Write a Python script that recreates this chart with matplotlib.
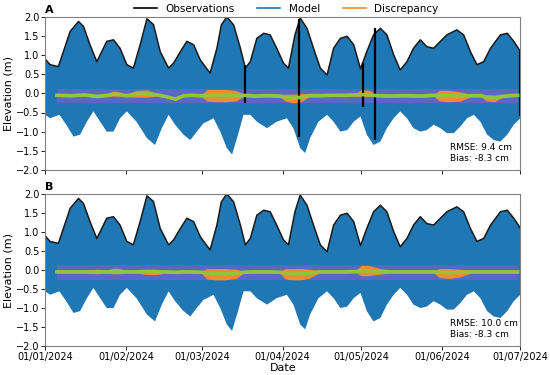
import numpy as np
import pandas as pd
import matplotlib.pyplot as plt
import matplotlib.dates as mdates

start = pd.Timestamp("2024-01-01")
end = pd.Timestamp("2024-07-01")

# upper / lower envelope of the tide (days since 01/01/2024, m)
up_days = [0, 1.9, 5.1, 7, 9.6, 12.8, 14.7, 17.2, 19.8, 21.7, 23.6, 26.2, 28.7, 31.3, 33.8,
           36.4, 39, 41.5, 44.1, 47.3, 49.2, 51.8, 54.3, 56.9, 59.4, 61.3, 63.2, 65.8, 67.5,
           69.6, 72.2, 74.8, 76.7, 78.6, 81.1, 83.7, 86.2, 88.7, 91.3, 93.2, 95.7, 97.7,
           100.3, 102.8, 105.4, 108, 110.5, 113.1, 115.7, 118.2, 120.8, 123.2, 125.8, 128.4,
           130.9, 133.5, 136, 138.6, 141.1, 143.7, 146.2, 148.8, 151.4, 153.9, 157.7, 160.3,
           162.9, 165.4, 168, 170.6, 174.4, 177, 179.5, 182]
model_high = [0.9, 0.75, 0.7, 1.09, 1.62, 1.88, 1.75, 1.27, 0.83, 1.09, 1.36, 1.4, 1.18,
              0.75, 0.66, 1.27, 1.95, 1.8, 1.09, 0.66, 0.79, 1.09, 1.36, 1.27, 0.88, 0.7,
              0.53, 1.18, 1.79, 2.0, 1.79, 1.18, 0.66, 0.83, 1.44, 1.57, 1.53, 1.18, 0.79,
              0.66, 1.53, 1.97, 1.7, 1.18, 0.66, 0.48, 1.18, 1.44, 1.49, 1.27, 0.64, 1.09,
              1.53, 1.7, 1.53, 1.01, 0.61, 0.83, 1.18, 1.4, 1.22, 1.18, 1.36, 1.53, 1.66,
              1.53, 1.09, 0.75, 0.83, 1.18, 1.53, 1.57, 1.36, 1.1]

low_days = [0, 1.9, 5.5, 8.1, 10.9, 13.4, 16, 18.5, 21.1, 23.6, 26.2, 28.7, 31.3, 35, 39,
            42.1, 44.7, 47.3, 49.8, 53, 55.6, 58.1, 60.7, 62, 64.5, 67.1, 69.6, 71.6, 73.5,
            76, 78.6, 81.1, 85, 88.7, 92.6, 95.1, 97.7, 99.6, 101.5, 104.7, 108, 110.5,
            113.1, 115.7, 118.2, 120.8, 123.2, 125.8, 128.4, 130.9, 133.5, 136, 138.6, 141.1,
            143.7, 146.2, 148.8, 151.4, 153.9, 156.5, 159, 161.6, 164.2, 166.7, 169.3, 171.8,
            174.4, 177, 179.5, 182]
model_low = [-0.56, -0.65, -0.56, -0.82, -1.13, -1.08, -0.74, -0.47, -0.74, -1.0, -1.0,
             -0.65, -0.47, -0.74, -1.17, -1.35, -0.91, -0.56, -0.82, -1.08, -1.22, -1.0,
             -0.78, -0.74, -0.65, -1.0, -1.43, -1.6, -1.17, -0.56, -0.56, -0.74, -0.91,
             -0.74, -0.65, -0.91, -1.43, -1.56, -1.17, -0.74, -0.56, -0.74, -1.0, -0.96,
             -0.74, -0.6, -1.08, -1.35, -1.26, -0.91, -0.65, -0.47, -0.65, -0.91, -1.0,
             -0.96, -0.82, -0.91, -1.04, -1.04, -0.87, -0.65, -0.56, -0.74, -1.08, -1.22,
             -1.26, -1.08, -0.82, -0.65]

# vertical black strokes in the observations of panel A
gap_days = [76.6, 97.1, 121.7, 126.4, 182]
gap_top = [0.75, 1.95, 0.8, 1.7, 1.14]
gap_bot = [-0.26, -1.14, -0.35, -1.23, -0.6]

# discrepancy series (days, centre line, spread)
disc_days = [4.5, 10, 15, 20, 24, 26, 28.5, 31, 35, 39, 43, 46, 50, 53, 56, 60, 62, 65, 69,
             73, 76, 80, 85, 90, 92, 95, 98, 101, 105, 110, 115, 119, 121, 124, 127, 132,
             138, 144, 149, 151, 155, 159, 163, 167, 169, 172, 175, 178, 181]
discA_mid = [-0.05, -0.06, -0.04, -0.08, -0.05, -0.02, -0.03, -0.06, -0.02, -0.01, -0.04,
             -0.08, -0.15, -0.06, -0.05, -0.06, -0.05, -0.04, -0.05, -0.06, -0.05, -0.07,
             -0.06, -0.07, -0.1, -0.13, -0.1, -0.06, -0.06, -0.05, -0.05, -0.04, -0.03,
             -0.04, -0.06, -0.07, -0.06, -0.07, -0.05, -0.06, -0.06, -0.07, -0.06, -0.06,
             -0.1, -0.12, -0.08, -0.06, -0.05]
discA_low = [-0.08, -0.09, -0.07, -0.11, -0.08, -0.07, -0.07, -0.09, -0.1, -0.1, -0.07,
             -0.11, -0.18, -0.09, -0.08, -0.09, -0.2, -0.22, -0.22, -0.2, -0.08, -0.1,
             -0.09, -0.1, -0.2, -0.25, -0.22, -0.09, -0.09, -0.08, -0.08, -0.07, -0.08,
             -0.08, -0.09, -0.1, -0.09, -0.1, -0.08, -0.2, -0.22, -0.2, -0.09, -0.09,
             -0.2, -0.22, -0.11, -0.09, -0.08]
discA_high = [-0.02, -0.03, -0.01, -0.05, -0.02, 0.06, 0.04, -0.03, 0.08, 0.09, -0.01,
              -0.05, -0.12, -0.03, -0.02, -0.03, 0.1, 0.1, 0.1, 0.08, -0.02, -0.04,
              -0.03, -0.04, -0.02, -0.02, 0.0, -0.03, -0.03, -0.02, -0.02, -0.01, 0.1,
              0.08, -0.03, -0.04, -0.03, -0.04, -0.02, 0.08, 0.08, 0.04, -0.03, -0.03,
              -0.04, -0.04, -0.05, -0.03, -0.02]
discB_mid = [-0.05, -0.05, -0.05, -0.05, -0.05, -0.04, -0.04, -0.05, -0.05, -0.04, -0.05,
             -0.05, -0.06, -0.05, -0.05, -0.06, -0.08, -0.1, -0.1, -0.08, -0.06, -0.05,
             -0.05, -0.06, -0.08, -0.1, -0.1, -0.08, -0.05, -0.05, -0.05, -0.04, -0.02,
             -0.02, -0.03, -0.05, -0.05, -0.05, -0.05, -0.06, -0.07, -0.06, -0.05, -0.05,
             -0.05, -0.05, -0.05, -0.05, -0.05]
discB_low = [-0.08, -0.08, -0.08, -0.1, -0.08, -0.1, -0.1, -0.08, -0.08, -0.12, -0.12,
             -0.08, -0.09, -0.08, -0.08, -0.09, -0.24, -0.26, -0.26, -0.22, -0.09, -0.08,
             -0.08, -0.09, -0.24, -0.26, -0.26, -0.22, -0.08, -0.08, -0.08, -0.07, -0.15,
             -0.15, -0.12, -0.08, -0.08, -0.08, -0.08, -0.2, -0.22, -0.18, -0.08, -0.08,
             -0.08, -0.08, -0.08, -0.08, -0.08]
discB_high = [-0.02, -0.02, -0.02, 0.02, -0.02, 0.05, 0.04, -0.02, -0.02, 0.02, 0.02,
              -0.02, -0.03, -0.02, -0.02, -0.03, 0.04, 0.04, 0.04, 0.02, -0.03, -0.02,
              -0.02, -0.03, 0.04, 0.04, 0.04, 0.02, -0.02, -0.02, -0.02, -0.01, 0.12,
              0.12, 0.06, -0.02, -0.02, -0.02, -0.02, 0.04, 0.04, 0.02, -0.02, -0.02,
              -0.02, -0.02, -0.02, -0.02, -0.02]
disc_strip = (-0.26, 0.12)

rmse_text = ["RMSE: 9.4 cm\nBias: -8.3 cm", "RMSE: 10.0 cm\nBias: -8.3 cm"]
panel_labels = ["A", "B"]


def to_num(days):
    return mdates.date2num(start + pd.to_timedelta(np.array(days, dtype=float), unit="D"))


up_x = to_num(up_days)
low_x = to_num(low_days)
disc_x = to_num(disc_days)
poly_x = np.concatenate([up_x, low_x[::-1]])
poly_y = np.concatenate([model_high, model_low[::-1]])

fig = plt.figure(figsize=(5.5, 3.75), dpi=100)
axA = fig.add_axes([0.082, 0.547, 0.864, 0.408])
axB = fig.add_axes([0.082, 0.077, 0.864, 0.406])

panels = [(axA, discA_low, discA_mid, discA_high), (axB, discB_low, discB_mid, discB_high)]
for i, (ax, dlow, dmid, dhigh) in enumerate(panels):
    ax.xaxis_date()
    # observations: thin dark rim along the top of the model envelope
    ax.plot(up_x, model_high, color="#1a1a1a", lw=1.1)
    ax.fill(poly_x, poly_y, color="#1f77b4", lw=0)
    if i == 0:
        ax.vlines(to_num(gap_days), gap_bot, gap_top, color="black", lw=1.6)
    ax.fill_between(disc_x, disc_strip[0], disc_strip[1], color="#8a5ccf", lw=0, alpha=0.55)
    ax.fill_between(disc_x, dlow, dhigh, color="#f08c30", lw=0)
    ax.plot(disc_x, dmid, color="#93c43c", lw=2.6)

    ax.set_xlim(mdates.date2num(start), mdates.date2num(end))
    ax.set_ylim(-2.0, 2.0)
    ax.set_yticks(np.arange(-2.0, 2.01, 0.5))
    ax.xaxis.set_major_locator(mdates.MonthLocator())
    ax.xaxis.set_major_formatter(mdates.DateFormatter("%d/%m/%Y"))
    ax.tick_params(labelsize=7, length=3, width=0.6, pad=1)
    ax.set_ylabel("Elevation (m)", fontsize=8, labelpad=2)
    for s in ax.spines.values():
        s.set_color("#808080")
        s.set_linewidth(0.8)
    ax.text(0.853, 0.045, rmse_text[i], transform=ax.transAxes, fontsize=6.5,
            va="bottom", ha="left", linespacing=1.3)
    ax.text(0.0, 1.015, panel_labels[i], transform=ax.transAxes, fontsize=8,
            fontweight="bold", va="bottom", ha="left")

axA.tick_params(labelbottom=False)
axB.set_xlabel("Date", fontsize=8, labelpad=1)

handles = [plt.Line2D([], [], color="black", lw=1.2),
           plt.Line2D([], [], color="#1f77b4", lw=1.2),
           plt.Line2D([], [], color="#f08c30", lw=1.2)]
fig.legend(handles, ["Observations", "Model", "Discrepancy"], loc="upper center",
           bbox_to_anchor=(0.52, 1.015), ncol=3, frameon=False, fontsize=7.5,
           handlelength=2.2, columnspacing=2.2)

fig.savefig("out.png", dpi=100)
